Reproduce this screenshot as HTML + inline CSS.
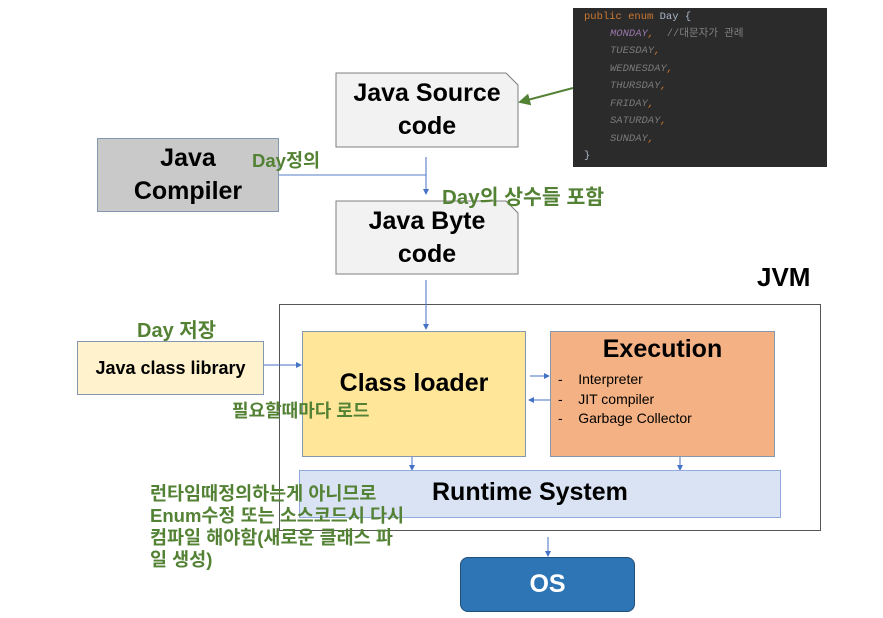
<!DOCTYPE html>
<html><head><meta charset="utf-8"><style>
body{margin:0;width:883px;height:618px;background:#fff;position:relative;overflow:hidden;font-family:"Liberation Sans","Noto Sans CJK KR",sans-serif}
.a{position:absolute;box-sizing:border-box}
.bx{display:flex;align-items:center;justify-content:center;text-align:center;color:#000;font-weight:bold}
.g{position:absolute;color:#548235;font-weight:bold;white-space:nowrap}
.code{font-family:"Liberation Mono","Noto Sans CJK KR",monospace;font-size:10.5px;line-height:12px;height:12px;white-space:pre;position:absolute;left:584px;color:#7a7a7a;font-style:italic}
</style></head><body>
<div class="a" style="left:573px;top:8px;width:254px;height:159px;background:#2b2b2b"></div>
<div class="code" style="top:11px;font-style:normal"><span style="color:#cc7832">public enum </span><span style="color:#a9b7c6">Day {</span></div>
<div class="code" style="top:28px;left:610px"><span style="color:#9876aa">MONDAY</span><span style="color:#cc7832">,</span>  <span style="color:#808080;font-style:normal">//대문자가 관례</span></div>
<div class="code" style="top:45px;left:610px">TUESDAY<span style="color:#cc7832">,</span></div>
<div class="code" style="top:63px;left:610px">WEDNESDAY<span style="color:#cc7832">,</span></div>
<div class="code" style="top:80px;left:610px">THURSDAY<span style="color:#cc7832">,</span></div>
<div class="code" style="top:98px;left:610px">FRIDAY<span style="color:#cc7832">,</span></div>
<div class="code" style="top:115px;left:610px">SATURDAY<span style="color:#cc7832">,</span></div>
<div class="code" style="top:133px;left:610px">SUNDAY<span style="color:#cc7832">,</span></div>
<div class="code" style="top:150px;font-style:normal;color:#a9b7c6">}</div>

<svg class="a" style="left:0;top:0" width="883" height="618">
<defs><marker id="m" markerWidth="6" markerHeight="6" refX="5" refY="3" orient="auto"><path d="M0,0L6,3L0,6z" fill="#4472c4"/></marker>
<marker id="mg" markerWidth="6" markerHeight="6" refX="5" refY="3" orient="auto"><path d="M0,0L6,3L0,6z" fill="#548235"/></marker></defs>
<path d="M336,73H506L518,85V147H336Z" fill="#f2f2f2" stroke="#7f7f7f"/>
<path d="M336,201H506L518,213V274H336Z" fill="#f2f2f2" stroke="#7f7f7f"/>
<rect x="279.5" y="304.5" width="541" height="226" fill="none" stroke="#555"/>
<line x1="573" y1="88" x2="520" y2="102" stroke="#548235" stroke-width="2" marker-end="url(#mg)"/>
<path d="M279,175H426" stroke="#8faadc" stroke-width="1.5" fill="none"/>
<line x1="426" y1="157" x2="426" y2="194" stroke="#4472c4" marker-end="url(#m)"/>
<line x1="426" y1="280" x2="426" y2="329" stroke="#4472c4" marker-end="url(#m)"/>
<line x1="264" y1="365" x2="301" y2="365" stroke="#4472c4" marker-end="url(#m)"/>
<line x1="530" y1="376" x2="549" y2="376" stroke="#4472c4" marker-end="url(#m)"/>
<line x1="550" y1="400" x2="529" y2="400" stroke="#4472c4" marker-end="url(#m)"/>
<line x1="412" y1="456" x2="412" y2="470" stroke="#4472c4" marker-end="url(#m)"/>
<line x1="680" y1="454" x2="680" y2="470" stroke="#4472c4" marker-end="url(#m)"/>
<line x1="548" y1="537" x2="548" y2="556" stroke="#4472c4" marker-end="url(#m)"/>
</svg>
<div class="a bx" style="left:336px;top:73px;width:182px;height:74px;font-size:25px;line-height:33px">Java Source<br>code</div>
<div class="a bx" style="left:336px;top:201px;width:182px;height:73px;font-size:25px;line-height:33px">Java Byte<br>code</div>
<div class="a bx" style="left:97px;top:138px;width:182px;height:74px;background:#c9c9c9;border:1.5px solid #8497b0;font-size:25px;line-height:33px">Java<br>Compiler</div>
<div class="g" style="left:252px;top:147px;font-size:18.5px">Day정의</div>
<div class="g" style="left:442px;top:180px;font-size:20.5px">Day의 상수들 포함</div>
<div class="a" style="left:757px;top:262px;font-size:26px;font-weight:bold">JVM</div>
<div class="g" style="left:137px;top:314px;font-size:20px">Day 저장</div>
<div class="a bx" style="left:77px;top:341px;width:187px;height:54px;background:#fff2cc;border:1.5px solid #8497b0;font-size:18px">Java class library</div>
<div class="a bx" style="left:302px;top:331px;width:224px;height:126px;background:#ffe699;border:1.5px solid #8497b0;font-size:25px;padding-bottom:22px">Class loader</div>
<div class="a" style="left:550px;top:331px;width:225px;height:126px;background:#f4b183;border:1.5px solid #8497b0"></div>
<div class="a" style="left:550px;top:335px;width:225px;text-align:center;font-size:25px;font-weight:bold">Execution</div>
<div class="a" style="left:558px;top:370px;font-size:14px;line-height:19.5px;white-space:pre">-    Interpreter
-    JIT compiler
-    Garbage Collector</div>
<div class="g" style="left:232px;top:397px;font-size:18px">필요할때마다 로드</div>
<div class="a" style="left:299px;top:470px;width:482px;height:48px;background:#dae3f3;border:1.5px solid #8faadc"></div>
<div class="a" style="left:432px;top:478px;font-size:25px;font-weight:bold">Runtime System</div>
<div class="g" style="left:150px;top:483px;font-size:18.5px;line-height:22px">런타임때정의하는게 아니므로<br>Enum수정 또는 소스코드시 다시<br>컴파일 해야함(새로운 클래스 파<br>일 생성)</div>
<div class="a bx" style="left:460px;top:557px;width:175px;height:55px;background:#2e75b6;border:1.5px solid #1f4e79;border-radius:8px;color:#fff;font-size:25px">OS</div>
</body></html>
